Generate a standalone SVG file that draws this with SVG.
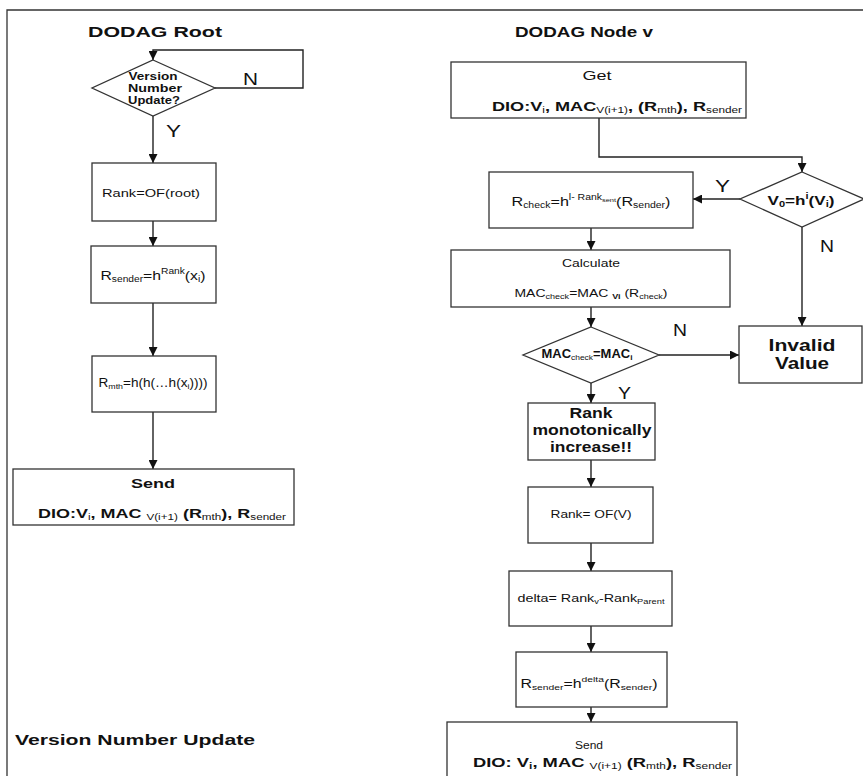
<svg xmlns="http://www.w3.org/2000/svg" width="863" height="776" viewBox="0 0 863 776">
<style>
text{font-family:"Liberation Sans",Arial,sans-serif;fill:#111;}
.b{font-weight:bold;}
.box{fill:#fff;stroke:#333;stroke-width:1.3;}
.c{fill:none;stroke:#222;stroke-width:1.4;}
.s{font-size:65%;}
</style>
<defs>
<marker id="ah" viewBox="0 0 10 10" refX="10" refY="5" markerWidth="9" markerHeight="9" markerUnits="userSpaceOnUse" orient="auto">
<path d="M0,0 L10,5 L0,10 z" fill="#111"/>
</marker>
</defs>
<rect width="863" height="776" fill="#fff"/>
<path d="M7,776 V10 H863" fill="none" stroke="#333" stroke-width="1.3"/>

<g id="titles">
<text class="b" x="155" y="37" font-size="15" text-anchor="middle" textLength="134" lengthAdjust="spacingAndGlyphs">DODAG Root</text>
<text class="b" x="584" y="37" font-size="15" text-anchor="middle" textLength="138" lengthAdjust="spacingAndGlyphs">DODAG Node v</text>
<text class="b" x="15" y="745" font-size="15" textLength="240" lengthAdjust="spacingAndGlyphs">Version Number Update</text>
</g>

<g id="connectors">
<path class="c" d="M215,88 H303 V50 H153 V60" marker-end="url(#ah)"/>
<path class="c" d="M153,116 V163" marker-end="url(#ah)"/>
<path class="c" d="M153,221 V246" marker-end="url(#ah)"/>
<path class="c" d="M153,303 V356" marker-end="url(#ah)"/>
<path class="c" d="M153,412 V469" marker-end="url(#ah)"/>
<path class="c" d="M599,118 V157 H802 V172" marker-end="url(#ah)"/>
<path class="c" d="M740,199 H693" marker-end="url(#ah)"/>
<path class="c" d="M802,227 V326" marker-end="url(#ah)"/>
<path class="c" d="M591,228 V250" marker-end="url(#ah)"/>
<path class="c" d="M591,307 V327" marker-end="url(#ah)"/>
<path class="c" d="M659,355 H739" marker-end="url(#ah)"/>
<path class="c" d="M591,383 V403" marker-end="url(#ah)"/>
<path class="c" d="M591,460 V487" marker-end="url(#ah)"/>
<path class="c" d="M591,543 V571" marker-end="url(#ah)"/>
<path class="c" d="M591,626 V652" marker-end="url(#ah)"/>
<path class="c" d="M591,707 V722" marker-end="url(#ah)"/>
<text x="243" y="85" font-size="17" textLength="15" lengthAdjust="spacingAndGlyphs">N</text>
<text x="166" y="137" font-size="16" textLength="15" lengthAdjust="spacingAndGlyphs">Y</text>
<text x="715" y="192" font-size="16" textLength="15" lengthAdjust="spacingAndGlyphs">Y</text>
<text x="820" y="252" font-size="16" textLength="14" lengthAdjust="spacingAndGlyphs">N</text>
<text x="673" y="336" font-size="16" textLength="14" lengthAdjust="spacingAndGlyphs">N</text>
<text x="618" y="399" font-size="16" textLength="13" lengthAdjust="spacingAndGlyphs">Y</text>
</g>

<g id="root-decision">
<polygon class="box" points="153,60 215,88 153,116 92,88"/>
<text class="b" x="153" y="80" font-size="11" text-anchor="middle" textLength="49" lengthAdjust="spacingAndGlyphs">Version</text>
<text class="b" x="155" y="92" font-size="11" text-anchor="middle" textLength="54" lengthAdjust="spacingAndGlyphs">Number</text>
<text class="b" x="154" y="104" font-size="11" text-anchor="middle" textLength="52" lengthAdjust="spacingAndGlyphs">Update?</text>
</g>

<g id="root-rank">
<rect class="box" x="92" y="163" width="124" height="58"/>
<text x="151" y="197" font-size="11" text-anchor="middle" textLength="98" lengthAdjust="spacingAndGlyphs">Rank=OF(root)</text>
</g>

<g id="root-rsender">
<rect class="box" x="91" y="246" width="125" height="57"/>
<text x="153" y="280" font-size="13" text-anchor="middle" textLength="105" lengthAdjust="spacingAndGlyphs">R<tspan class="s" dy="2">sender</tspan><tspan dy="-2">=h</tspan><tspan class="s" dy="-6">Rank</tspan><tspan dy="6">(x</tspan><tspan class="s" dy="2">i</tspan><tspan dy="-2">)</tspan></text>
</g>

<g id="root-rmth">
<rect class="box" x="92" y="356" width="124" height="56"/>
<text x="153" y="387" font-size="12" text-anchor="middle" textLength="109" lengthAdjust="spacingAndGlyphs">R<tspan class="s" dy="2">mth</tspan><tspan dy="-2">=h(h(…h(x</tspan><tspan class="s" dy="2">i</tspan><tspan dy="-2">))))</tspan></text>
</g>

<g id="root-send">
<rect class="box" x="13" y="469" width="281" height="56"/>
<text class="b" x="153" y="488" font-size="12" text-anchor="middle" textLength="44" lengthAdjust="spacingAndGlyphs">Send</text>
<text class="b" x="38" y="518" font-size="13" textLength="248" lengthAdjust="spacingAndGlyphs">DIO:V<tspan class="s" font-weight="normal" dy="2">i</tspan><tspan dy="-2">, MAC </tspan><tspan class="s" font-weight="normal" dy="2">V(i+1)</tspan><tspan dy="-2"> (R</tspan><tspan class="s" font-weight="normal" dy="2">mth</tspan><tspan dy="-2">), R</tspan><tspan class="s" font-weight="normal" dy="2">sender</tspan></text>
</g>

<g id="node-get">
<rect class="box" x="451" y="62" width="295" height="56"/>
<text x="597" y="80" font-size="12" text-anchor="middle" textLength="29" lengthAdjust="spacingAndGlyphs">Get</text>
<text class="b" x="492" y="111" font-size="13" textLength="250" lengthAdjust="spacingAndGlyphs">DIO:V<tspan class="s" font-weight="normal" dy="2">i</tspan><tspan dy="-2">, MAC</tspan><tspan class="s" font-weight="normal" dy="2">V(i+1)</tspan><tspan dy="-2">, (R</tspan><tspan class="s" font-weight="normal" dy="2">mth</tspan><tspan dy="-2">), R</tspan><tspan class="s" font-weight="normal" dy="2">sender</tspan></text>
</g>

<g id="node-version-check">
<polygon class="box" points="802,172 864,199 802,227 740,199"/>
<text class="b" x="801" y="205" font-size="13" text-anchor="middle" textLength="67" lengthAdjust="spacingAndGlyphs">V<tspan class="s" dy="2">0</tspan><tspan dy="-2">=h</tspan><tspan class="s" dy="-6">i</tspan><tspan dy="6">(V</tspan><tspan class="s" dy="2">i</tspan><tspan dy="-2">)</tspan></text>
</g>

<g id="node-rcheck">
<rect class="box" x="489" y="172" width="204" height="56"/>
<text x="591" y="206" font-size="13" text-anchor="middle" textLength="159" lengthAdjust="spacingAndGlyphs">R<tspan class="s" dy="2">check</tspan><tspan dy="-2">=h</tspan><tspan class="s" dy="-6">l- Rank</tspan><tspan font-size="6" dy="2">sent</tspan><tspan dy="4">(R</tspan><tspan class="s" dy="2">sender</tspan><tspan dy="-2">)</tspan></text>
</g>

<g id="node-calculate">
<rect class="box" x="451" y="250" width="279" height="57"/>
<text x="591" y="267" font-size="11" text-anchor="middle" textLength="58" lengthAdjust="spacingAndGlyphs">Calculate</text>
<text x="591" y="297" font-size="11" text-anchor="middle" textLength="153" lengthAdjust="spacingAndGlyphs">MAC<tspan class="s" dy="2">check</tspan><tspan dy="-2">=MAC </tspan><tspan class="s" font-weight="bold" dy="2">Vi</tspan><tspan dy="-2"> (R</tspan><tspan class="s" dy="2">check</tspan><tspan dy="-2">)</tspan></text>
</g>

<g id="node-mac-check">
<polygon class="box" points="591,327 659,355 591,383 523,355"/>
<text class="b" x="587" y="358" font-size="12" text-anchor="middle" textLength="91" lengthAdjust="spacingAndGlyphs">MAC<tspan class="s" font-weight="normal" dy="2">check</tspan><tspan dy="-2">=MAC</tspan><tspan class="s" dy="2">i</tspan></text>
</g>

<g id="node-invalid">
<rect class="box" x="739" y="326" width="123" height="57"/>
<text class="b" x="802" y="351" font-size="17" text-anchor="middle" textLength="67" lengthAdjust="spacingAndGlyphs">Invalid</text>
<text class="b" x="802" y="369" font-size="17" text-anchor="middle" textLength="54" lengthAdjust="spacingAndGlyphs">Value</text>
</g>

<g id="node-monotonic">
<rect class="box" x="528" y="403" width="127" height="57"/>
<text class="b" x="591" y="418" font-size="14" text-anchor="middle" textLength="43" lengthAdjust="spacingAndGlyphs">Rank</text>
<text class="b" x="592" y="435" font-size="14" text-anchor="middle" textLength="119" lengthAdjust="spacingAndGlyphs">monotonically</text>
<text class="b" x="591" y="452" font-size="14" text-anchor="middle" textLength="82" lengthAdjust="spacingAndGlyphs">increase!!</text>
</g>

<g id="node-rank">
<rect class="box" x="528" y="487" width="125" height="56"/>
<text x="591" y="518" font-size="11" text-anchor="middle" textLength="81" lengthAdjust="spacingAndGlyphs">Rank= OF(V)</text>
</g>

<g id="node-delta">
<rect class="box" x="509" y="571" width="163" height="55"/>
<text x="591" y="602" font-size="11" text-anchor="middle" textLength="147" lengthAdjust="spacingAndGlyphs">delta= Rank<tspan class="s" dy="2">v</tspan><tspan dy="-2">-Rank</tspan><tspan class="s" dy="2">Parent</tspan></text>
</g>

<g id="node-rsender">
<rect class="box" x="516" y="652" width="151" height="55"/>
<text x="589" y="688" font-size="12" text-anchor="middle" textLength="137" lengthAdjust="spacingAndGlyphs">R<tspan class="s" dy="2">sender</tspan><tspan dy="-2">=h</tspan><tspan class="s" dy="-6">delta</tspan><tspan dy="6">(R</tspan><tspan class="s" dy="2">sender</tspan><tspan dy="-2">)</tspan></text>
</g>

<g id="node-send">
<rect class="box" x="447" y="722" width="290" height="60"/>
<text x="589" y="749" font-size="10" text-anchor="middle" textLength="28" lengthAdjust="spacingAndGlyphs">Send</text>
<text class="b" x="473" y="767" font-size="13" textLength="259" lengthAdjust="spacingAndGlyphs">DIO: V<tspan class="s" dy="2">i</tspan><tspan dy="-2">, MAC </tspan><tspan class="s" font-weight="normal" dy="2">V(i+1)</tspan><tspan dy="-2"> (R</tspan><tspan class="s" font-weight="normal" dy="2">mth</tspan><tspan dy="-2">), R</tspan><tspan class="s" font-weight="normal" dy="2">sender</tspan></text>
</g>
</svg>
